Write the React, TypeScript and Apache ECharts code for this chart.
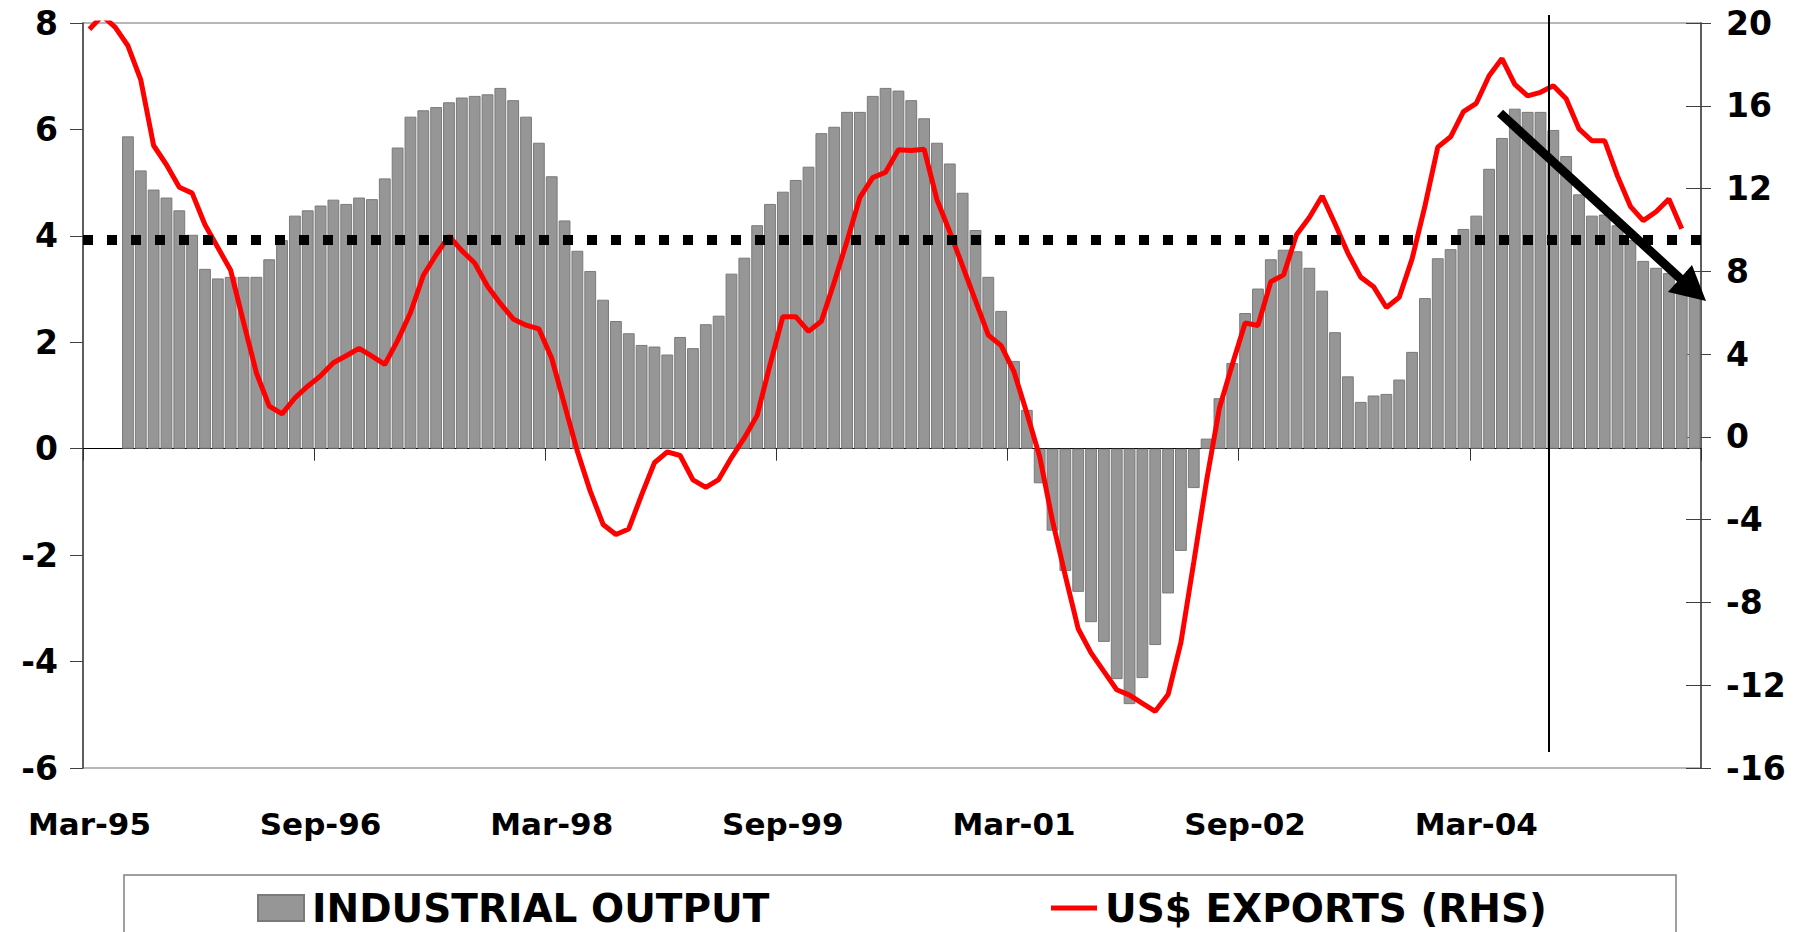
import React, { useEffect, useRef } from "react";
import * as echarts from "echarts";

// ---- categories (monthly, Mar-95 .. Aug-05) ----
const MONTH_NAMES = ["Jan", "Feb", "Mar", "Apr", "May", "Jun", "Jul", "Aug", "Sep", "Oct", "Nov", "Dec"];
const START_MONTH_INDEX = 2; // March
const START_YEAR = 95;
const MONTH_COUNT = 126;
const categories: string[] = Array.from({ length: MONTH_COUNT }, (_, i) => {
  const m = (START_MONTH_INDEX + i) % 12;
  const y = (START_YEAR + Math.floor((START_MONTH_INDEX + i) / 12)) % 100;
  return MONTH_NAMES[m] + "-" + String(y).padStart(2, "0");
});

// ---- industrial output (LHS, %) ----
const industrialOutput: (number | null)[] = [
  null, null, null, 5.87, 5.23, 4.87, 4.72, 4.48, 4.02, 3.38,
  3.20, 3.23, 3.23, 3.23, 3.56, 3.92, 4.38, 4.48, 4.57, 4.68,
  4.60, 4.72, 4.69, 5.08, 5.66, 6.24, 6.36, 6.42, 6.51, 6.60,
  6.63, 6.66, 6.78, 6.55, 6.24, 5.75, 5.12, 4.29, 3.72, 3.34,
  2.80, 2.40, 2.17, 1.95, 1.92, 1.77, 2.10, 1.89, 2.34, 2.50,
  3.29, 3.59, 4.20, 4.60, 4.83, 5.05, 5.30, 5.93, 6.05, 6.33,
  6.33, 6.63, 6.78, 6.73, 6.55, 6.21, 5.75, 5.36, 4.81, 4.11,
  3.23, 2.59, 1.65, 0.73, -0.65, -1.54, -2.30, -2.69, -3.26, -3.63,
  -4.33, -4.80, -4.31, -3.69, -2.72, -1.92, -0.74, 0.19, 0.95, 1.61,
  2.55, 3.01, 3.56, 3.74, 3.71, 3.40, 2.97, 2.19, 1.36, 0.88,
  1.00, 1.03, 1.30, 1.82, 2.83, 3.58, 3.75, 4.13, 4.38, 5.26,
  5.84, 6.39, 6.33, 6.33, 5.99, 5.50, 4.78, 4.38, 4.40, 4.20,
  3.92, 3.53, 3.40, 3.30, 3.10, 2.90,
];

// ---- US$ exports (RHS, %) ----
const usdExports: (number | null)[] = [
  19.7, 20.35, 19.8, 18.9, 17.25, 14.08, 13.15, 12.06, 11.78, 10.25,
  9.15, 8.05, 5.55, 3.1, 1.49, 1.11, 1.88, 2.45, 2.95, 3.58,
  3.92, 4.28, 3.9, 3.5, 4.65, 6.0, 7.8, 8.8, 9.7, 9.0,
  8.4, 7.28, 6.45, 5.7, 5.4, 5.22, 3.8, 1.55, -0.7, -2.62,
  -4.23, -4.72, -4.45, -2.8, -1.25, -0.72, -0.9, -2.08, -2.44, -2.06,
  -1.0, -0.05, 1.04, 3.48, 5.81, 5.81, 5.1, 5.59, 7.47, 9.47,
  11.57, 12.53, 12.79, 13.88, 13.84, 13.9, 11.46, 9.91, 8.25, 6.59,
  4.92, 4.41, 3.15, 1.15, -0.95, -4.06, -6.72, -9.27, -10.44, -11.33,
  -12.22, -12.48, -12.88, -13.26, -12.45, -9.93, -6.05, -2.1, 1.4, 3.5,
  5.5, 5.38, 7.5, 7.83, 9.77, 10.6, 11.64, 10.3, 8.88, 7.72,
  7.26, 6.25, 6.75, 8.6, 11.15, 14.0, 14.5, 15.72, 16.12, 17.45,
  18.28, 17.03, 16.48, 16.65, 16.97, 16.34, 14.88, 14.31, 14.31, 12.6,
  11.14, 10.45, 10.88, 11.5, 10.06, null,
];

// ---- axis settings ----
const LEFT_MIN = -6;
const LEFT_MAX = 8;
const LEFT_STEP = 2;
const RIGHT_MIN = -16;
const RIGHT_MAX = 20;
const RIGHT_STEP = 4;
const LABEL_EVERY = 18; // months between x labels
const THRESHOLD = 3.93; // dotted reference line (LHS)

const FONT = "DejaVu Sans";

export default function App() {
  const ref = useRef<HTMLDivElement>(null);

  useEffect(() => {
    if (!ref.current) return;
    const chart = echarts.init(ref.current, undefined, { renderer: "svg" });

    const legendText = {
      fontFamily: FONT,
      fontWeight: "bold" as const,
      fontSize: 39,
      lineHeight: 40,
      color: "#000",
      padding: [0, 0, 0, 3],
    };

    chart.setOption({
      animation: false,
      backgroundColor: "#fff",
      grid: {
        left: 83,
        right: 105,
        top: 23,
        bottom: 164,
        show: true,
        borderColor: "#a0a0a0",
        borderWidth: 1.5,
        backgroundColor: "transparent",
      },
      legend: [
        {
          data: [{ name: "INDUSTRIAL OUTPUT", icon: "rect" }],
          left: 252,
          top: 883,
          itemWidth: 46,
          itemHeight: 26,
          selectedMode: false,
          textStyle: legendText,
        },
        {
          data: [{ name: "US$ EXPORTS (RHS)", icon: "rect", itemStyle: { color: "#ff0000", borderWidth: 0 } }],
          left: 1046,
          top: 883,
          itemWidth: 46,
          itemHeight: 5,
          selectedMode: false,
          textStyle: legendText,
        },
      ],
      xAxis: [
        {
          type: "category",
          data: categories,
          boundaryGap: true,
          position: "bottom",
          axisLine: { show: true, onZero: true, lineStyle: { color: "#000", width: 1 } },
          axisTick: { show: true, interval: LABEL_EVERY - 1, length: 12, lineStyle: { color: "#333", width: 1 } },
          axisLabel: { show: false },
          splitLine: { show: false },
        },
        {
          type: "category",
          data: categories,
          boundaryGap: true,
          position: "bottom",
          axisLine: { show: false, onZero: false },
          axisTick: { show: false },
          axisLabel: {
            show: true,
            interval: LABEL_EVERY - 1,
            margin: 40,
            fontFamily: FONT,
            fontWeight: "bold",
            fontSize: 31,
            color: "#000",
          },
          splitLine: { show: false },
        },
      ],
      yAxis: [
        {
          type: "value",
          position: "left",
          min: LEFT_MIN,
          max: LEFT_MAX,
          interval: LEFT_STEP,
          axisLine: { show: true, onZero: false, lineStyle: { color: "#404040", width: 1.5 } },
          axisTick: { show: true, length: 13, lineStyle: { color: "#404040", width: 1 } },
          axisLabel: { margin: 25, fontFamily: FONT, fontWeight: "bold", fontSize: 33, color: "#000" },
          splitLine: { show: false },
        },
        {
          type: "value",
          position: "right",
          min: RIGHT_MIN,
          max: RIGHT_MAX,
          interval: RIGHT_STEP,
          axisLine: { show: true, onZero: false, lineStyle: { color: "#404040", width: 1.5 } },
          axisTick: { show: true, length: 10, lineStyle: { color: "#404040", width: 1 } },
          axisLabel: { margin: 25, fontFamily: FONT, fontWeight: "bold", fontSize: 33, color: "#000" },
          splitLine: { show: false },
        },
        {
          type: "value",
          position: "right",
          min: RIGHT_MIN,
          max: RIGHT_MAX,
          interval: RIGHT_STEP,
          axisLine: { show: false, onZero: false },
          axisTick: { show: true, inside: true, length: 15, lineStyle: { color: "#404040", width: 1 } },
          axisLabel: { show: false },
          splitLine: { show: false },
        },
      ],
      series: [
        {
          name: "INDUSTRIAL OUTPUT",
          type: "bar",
          xAxisIndex: 0,
          yAxisIndex: 0,
          data: industrialOutput,
          barCategoryGap: "8%",
          itemStyle: { color: "#969696", borderColor: "#7a7a7a", borderWidth: 1 },
          z: 2,
          markLine: {
            silent: true,
            symbol: ["none", "none"],
            label: { show: false },
            lineStyle: { color: "#000", width: 10, type: [10, 14] },
            data: [{ yAxis: THRESHOLD }],
          },
        },
        {
          name: "US$ EXPORTS (RHS)",
          type: "line",
          xAxisIndex: 0,
          yAxisIndex: 1,
          data: usdExports,
          symbol: "none",
          showSymbol: false,
          lineStyle: { color: "#ff0000", width: 5 },
          itemStyle: { color: "#ff0000" },
          z: 4,
        },
      ],
      graphic: [
        {
          type: "rect",
          silent: true,
          z: 0,
          shape: { x: 124, y: 875, width: 1552, height: 100 },
          style: { fill: "none", stroke: "#808080", lineWidth: 1.5 },
        },
        {
          type: "line",
          silent: true,
          z: 20,
          shape: { x1: 1549, y1: 15, x2: 1549, y2: 752 },
          style: { stroke: "#000", lineWidth: 2 },
        },
        {
          type: "line",
          silent: true,
          z: 21,
          shape: { x1: 1500, y1: 113, x2: 1684, y2: 282 },
          style: { stroke: "#000", lineWidth: 9 },
        },
        {
          type: "polygon",
          silent: true,
          z: 21,
          shape: { points: [[1706, 301], [1668, 292], [1692, 265]] },
          style: { fill: "#000" },
        },
      ],
    });

    return () => chart.dispose();
  }, []);

  return (
    <div
      ref={ref}
      style={{ position: "absolute", left: 0, top: 0, width: 1806, height: 932, background: "#fff" }}
    />
  );
}
